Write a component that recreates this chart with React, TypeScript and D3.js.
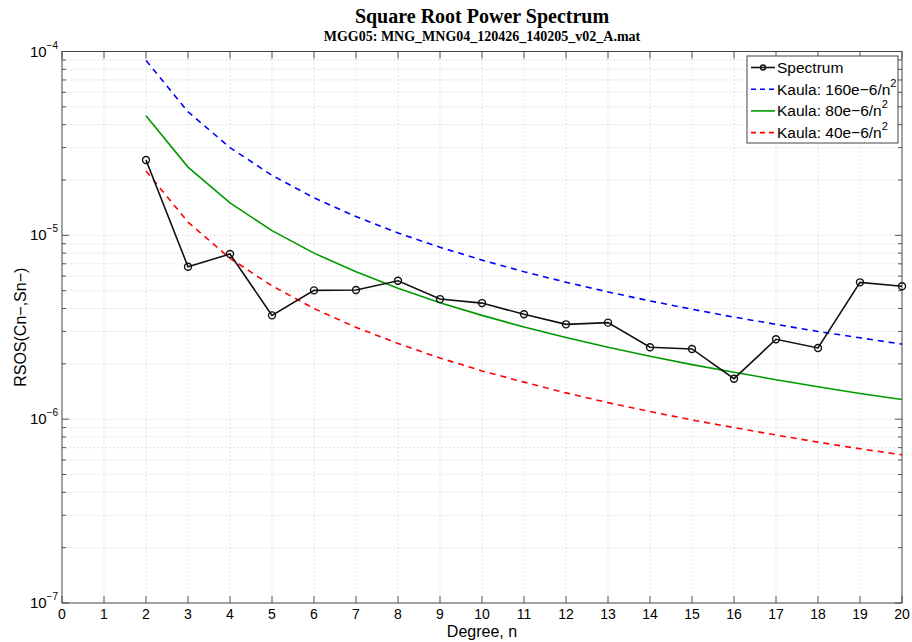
import React, { useEffect, useRef } from 'react';
import * as d3 from 'd3';

// degree n
const degrees = [2, 3, 4, 5, 6, 7, 8, 9, 10, 11, 12, 13, 14, 15, 16, 17, 18, 19, 20];
// RSOS spectrum
const spectrum = [2.57e-5, 6.75e-6, 7.91e-6, 3.67e-6, 5.02e-6, 5.04e-6, 5.66e-6, 4.50e-6, 4.28e-6,
  3.72e-6, 3.28e-6, 3.35e-6, 2.46e-6, 2.41e-6, 1.66e-6, 2.72e-6, 2.44e-6, 5.55e-6, 5.28e-6];
const kaula160 = [8.94e-5, 4.70e-5, 3.0e-5, 2.12e-5, 1.60e-5, 1.265e-5, 1.03e-5, 8.61e-6, 7.33e-6,
  6.34e-6, 5.56e-6, 4.92e-6, 4.40e-6, 3.96e-6, 3.59e-6, 3.28e-6, 3.0e-6, 2.77e-6, 2.56e-6];
const kaula80 = [4.47e-5, 2.35e-5, 1.5e-5, 1.06e-5, 8.0e-6, 6.33e-6, 5.15e-6, 4.30e-6, 3.67e-6,
  3.17e-6, 2.78e-6, 2.46e-6, 2.20e-6, 1.98e-6, 1.80e-6, 1.64e-6, 1.50e-6, 1.38e-6, 1.28e-6];
const kaula40 = [2.24e-5, 1.18e-5, 7.5e-6, 5.31e-6, 4.0e-6, 3.16e-6, 2.58e-6, 2.15e-6, 1.83e-6,
  1.59e-6, 1.39e-6, 1.23e-6, 1.10e-6, 9.9e-7, 9.0e-7, 8.2e-7, 7.5e-7, 6.9e-7, 6.4e-7];
const xTicks = d3.range(0, 21);
const yDecades = [-7, -6, -5, -4];

const App = () => {
  const ref = useRef(null);

  useEffect(() => {
    const width = 912;
    const height = 642;
    const margin = { top: 51.5, right: 10, bottom: 39, left: 62 };
    const w = width - margin.left - margin.right;
    const h = height - margin.top - margin.bottom;
    const font = 'Liberation Sans, Arial, sans-serif';

    const svg = d3.select(ref.current)
      .append('svg')
      .attr('width', width)
      .attr('height', height)
      .style('display', 'block');

    svg.append('rect').attr('width', width).attr('height', height).attr('fill', 'white');

    const x = d3.scaleLinear().domain([0, 20]).range([0, w]);
    const y = d3.scaleLog().domain([1e-7, 1e-4]).range([h, 0]);

    const g = svg.append('g').attr('transform', `translate(${margin.left},${margin.top})`);

    // grid
    const minor = [];
    yDecades.slice(0, 3).forEach((e) => {
      for (let k = 1; k < 10; k++) minor.push(k * Math.pow(10, e));
    });
    minor.push(1e-4);
    g.selectAll('.hgrid').data(minor.filter((v) => v > 1e-7 && v < 1e-4)).enter()
      .append('line')
      .attr('x1', 0).attr('x2', w)
      .attr('y1', (d) => y(d)).attr('y2', (d) => y(d))
      .attr('stroke', '#c8c8c8').attr('stroke-width', 1).attr('stroke-dasharray', '1,3');
    g.selectAll('.vgrid').data(xTicks.filter((v) => v > 0 && v < 20)).enter()
      .append('line')
      .attr('y1', 0).attr('y2', h)
      .attr('x1', (d) => x(d)).attr('x2', (d) => x(d))
      .attr('stroke', '#c8c8c8').attr('stroke-width', 1).attr('stroke-dasharray', '1,3');

    // ticks (inside)
    xTicks.forEach((t) => {
      g.append('line').attr('x1', x(t)).attr('x2', x(t)).attr('y1', h).attr('y2', h - 7).attr('stroke', '#555');
      g.append('line').attr('x1', x(t)).attr('x2', x(t)).attr('y1', 0).attr('y2', 7).attr('stroke', '#555');
    });
    minor.forEach((v) => {
      const major = yDecades.some((e) => Math.abs(v - Math.pow(10, e)) < 1e-12);
      const len = major ? 7 : 4;
      g.append('line').attr('x1', 0).attr('x2', len).attr('y1', y(v)).attr('y2', y(v)).attr('stroke', '#555');
      g.append('line').attr('x1', w).attr('x2', w - len).attr('y1', y(v)).attr('y2', y(v)).attr('stroke', '#555');
    });

    g.append('rect').attr('width', w).attr('height', h).attr('fill', 'none').attr('stroke', '#444').attr('stroke-width', 1);

    // tick labels
    g.selectAll('.xl').data(xTicks).enter().append('text')
      .attr('x', (d) => x(d)).attr('y', h + 16)
      .attr('text-anchor', 'middle').attr('font-family', font).attr('font-size', 14)
      .text((d) => d);
    yDecades.forEach((e) => {
      const t = g.append('text').attr('x', -4).attr('y', y(Math.pow(10, e)) + 5)
        .attr('text-anchor', 'end').attr('font-family', font).attr('font-size', 15);
      t.append('tspan').text('10');
      t.append('tspan').attr('font-size', 10).attr('dy', -8).text('\u2212' + Math.abs(e));
    });

    // axis labels
    svg.append('text').attr('x', margin.left + w / 2).attr('y', 637)
      .attr('text-anchor', 'middle').attr('font-family', font).attr('font-size', 16)
      .text('Degree, n');
    svg.append('text').attr('transform', `translate(26,${margin.top + h / 2}) rotate(-90)`)
      .attr('text-anchor', 'middle').attr('font-family', font).attr('font-size', 16)
      .text('RSOS(Cn\u2212,Sn\u2212)');

    // titles
    svg.append('text').attr('x', margin.left + w / 2).attr('y', 23)
      .attr('text-anchor', 'middle').attr('font-family', 'Liberation Serif, Times New Roman, serif')
      .attr('font-weight', 'bold').attr('font-size', 20)
      .text('Square Root Power Spectrum');
    svg.append('text').attr('x', margin.left + w / 2).attr('y', 41)
      .attr('text-anchor', 'middle').attr('font-family', 'Liberation Serif, Times New Roman, serif')
      .attr('font-weight', 'bold').attr('font-size', 14)
      .text('MGG05: MNG_MNG04_120426_140205_v02_A.mat');

    // curves
    const line = d3.line().x((d) => x(d[0])).y((d) => y(d[1]));
    const series = [
      { vals: kaula160, color: '#0000ff', dash: '6,5' },
      { vals: kaula80, color: '#009900', dash: null },
      { vals: kaula40, color: '#ff0000', dash: '6,5' },
    ];
    series.forEach((s) => {
      g.append('path')
        .datum(degrees.map((n, i) => [n, s.vals[i]]))
        .attr('d', line)
        .attr('fill', 'none')
        .attr('stroke', s.color)
        .attr('stroke-width', 1.6)
        .attr('stroke-dasharray', s.dash);
    });
    const spec = degrees.map((n, i) => [n, spectrum[i]]);
    g.append('path').datum(spec).attr('d', line)
      .attr('fill', 'none').attr('stroke', '#111').attr('stroke-width', 1.6);
    g.selectAll('.pt').data(spec).enter().append('circle')
      .attr('cx', (d) => x(d[0])).attr('cy', (d) => y(d[1])).attr('r', 3.5)
      .attr('fill', 'none').attr('stroke', '#111').attr('stroke-width', 1.4);

    // legend
    const lg = svg.append('g').attr('transform', 'translate(747,56)');
    lg.append('rect').attr('width', 151).attr('height', 87).attr('fill', 'white').attr('stroke', '#444');
    const items = [
      { label: 'Spectrum', color: '#111', dash: null, marker: true },
      { label: 'Kaula: 160e\u22126/n', color: '#0000ff', dash: '6,5' },
      { label: 'Kaula: 80e\u22126/n', color: '#009900', dash: null },
      { label: 'Kaula: 40e\u22126/n', color: '#ff0000', dash: '6,5' },
    ];
    items.forEach((it, i) => {
      const yy = 11.5 + i * 21.7;
      lg.append('line').attr('x1', 4).attr('x2', 28).attr('y1', yy).attr('y2', yy)
        .attr('stroke', it.color).attr('stroke-width', 1.6).attr('stroke-dasharray', it.dash ? '5,4' : null);
      if (it.marker) {
        lg.append('circle').attr('cx', 16).attr('cy', yy).attr('r', 2.5).attr('fill', 'none')
          .attr('stroke', it.color).attr('stroke-width', 1.4);
      }
      const t = lg.append('text').attr('x', 30).attr('y', yy + 5.5)
        .attr('font-family', font).attr('font-size', 15.5).text(it.label);
      if (!it.marker) t.append('tspan').attr('font-size', 11).attr('dy', -8).text('2');
    });

    return () => {
      d3.select(ref.current).selectAll('svg').remove();
    };
  }, []);

  return <div ref={ref} style={{ position: 'fixed', left: 0, top: 0 }} />;
};

export default App;
